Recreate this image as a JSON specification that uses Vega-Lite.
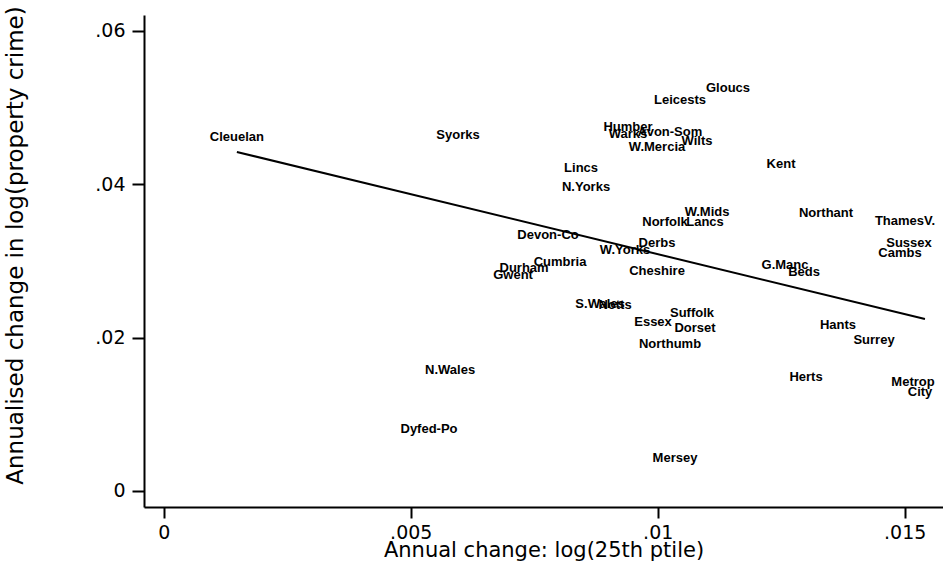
{
  "$schema": "https://vega.github.io/schema/vega-lite/v6.json",
  "width": 799,
  "height": 492,
  "autosize": {"type": "none"},
  "padding": {"left": 144, "top": 15, "right": 0, "bottom": 56},
  "background": "white",
  "config": {
    "view": {"stroke": null},
    "font": "DejaVu Sans",
    "axis": {
      "grid": false,
      "domainColor": "black",
      "tickColor": "black",
      "labelColor": "black",
      "titleColor": "black",
      "titleFontWeight": "normal",
      "labelFont": "DejaVu Sans",
      "titleFont": "DejaVu Sans",
      "domainWidth": 2,
      "tickWidth": 2
    }
  },
  "datasets": {
    "forces": [
      {"force": "Cleuelan", "x": 0.00148, "y": 0.04617},
      {"force": "Syorks", "x": 0.005957, "y": 0.04643},
      {"force": "Gloucs", "x": 0.011423, "y": 0.05256},
      {"force": "Leicests", "x": 0.010451, "y": 0.051},
      {"force": "Humber", "x": 0.009399, "y": 0.04748},
      {"force": "Warks", "x": 0.009399, "y": 0.04656},
      {"force": "Avon-Som", "x": 0.010249, "y": 0.04682},
      {"force": "W.Mercia", "x": 0.009986, "y": 0.04487},
      {"force": "Wilts", "x": 0.010796, "y": 0.04565},
      {"force": "Kent", "x": 0.012496, "y": 0.04265},
      {"force": "Lincs", "x": 0.008448, "y": 0.04213},
      {"force": "N.Yorks", "x": 0.008549, "y": 0.03965},
      {"force": "W.Mids", "x": 0.010998, "y": 0.03639},
      {"force": "Norfolk", "x": 0.010148, "y": 0.03509},
      {"force": "Lancs", "x": 0.010957, "y": 0.03509},
      {"force": "Northant", "x": 0.013407, "y": 0.03626},
      {"force": "ThamesV.", "x": 0.015006, "y": 0.03522},
      {"force": "Devon-Co", "x": 0.007779, "y": 0.03339},
      {"force": "Derbs", "x": 0.009986, "y": 0.03235},
      {"force": "W.Yorks", "x": 0.009338, "y": 0.03143},
      {"force": "Sussex", "x": 0.015087, "y": 0.03235},
      {"force": "Cambs", "x": 0.014905, "y": 0.03104},
      {"force": "Cumbria", "x": 0.008022, "y": 0.02987},
      {"force": "G.Manc", "x": 0.012577, "y": 0.02948},
      {"force": "Durham", "x": 0.007294, "y": 0.02909},
      {"force": "Cheshire", "x": 0.009986, "y": 0.02869},
      {"force": "Beds", "x": 0.012962, "y": 0.02856},
      {"force": "Gwent", "x": 0.007071, "y": 0.02817},
      {"force": "S.Wales", "x": 0.008832, "y": 0.02439},
      {"force": "Notts", "x": 0.009136, "y": 0.02426},
      {"force": "Suffolk", "x": 0.010694, "y": 0.02322},
      {"force": "Essex", "x": 0.009905, "y": 0.02204},
      {"force": "Dorset", "x": 0.010755, "y": 0.02126},
      {"force": "Hants", "x": 0.01365, "y": 0.02165},
      {"force": "Surrey", "x": 0.014379, "y": 0.01969},
      {"force": "Northumb", "x": 0.010249, "y": 0.01917},
      {"force": "N.Wales", "x": 0.005796, "y": 0.01578},
      {"force": "Herts", "x": 0.013002, "y": 0.01487},
      {"force": "Metrop", "x": 0.015168, "y": 0.01422},
      {"force": "City", "x": 0.01531, "y": 0.01291},
      {"force": "Dyfed-Po", "x": 0.00537, "y": 0.00809},
      {"force": "Mersey", "x": 0.01035, "y": 0.0043}
    ],
    "fit": [
      {"x": 0.00148, "y": 0.04422},
      {"x": 0.01541, "y": 0.02243}
    ]
  },
  "layer": [
    {
      "data": {"name": "forces"},
      "mark": {"type": "text", "fontSize": 13, "font": "Liberation Sans", "fontWeight": "bold", "color": "black", "align": "center", "baseline": "middle"},
      "encoding": {
        "x": {
          "field": "x", "type": "quantitative",
          "scale": {"domain": [-0.0004, 0.015775], "nice": false, "zero": false},
          "axis": {
            "values": [0, 0.005, 0.01, 0.015],
            "labelExpr": "datum.value == 0 ? '0' : substring(format(datum.value, '~g'), 1)",
            "title": "Annual change: log(25th ptile)",
            "tickSize": 11,
            "labelFontSize": 19,
            "titleFontSize": 21,
            "labelPadding": 5,
            "titlePadding": -3
          }
        },
        "y": {
          "field": "y", "type": "quantitative",
          "scale": {"domain": [-0.002087, 0.062086], "nice": false, "zero": false},
          "axis": {
            "values": [0, 0.02, 0.04, 0.06],
            "labelExpr": "datum.value == 0 ? '0' : substring(format(datum.value, '~g'), 1)",
            "title": "Annualised change in log(property crime)",
            "tickSize": 12,
            "labelFontSize": 19,
            "titleFontSize": 23,
            "labelPadding": 7,
            "titleX": -129,
            "titleY": 230,
            "titleAlign": "center",
            "titleBaseline": "middle",
            "titleAngle": 270
          }
        },
        "text": {"field": "force", "type": "nominal"}
      }
    },
    {
      "data": {"name": "fit"},
      "mark": {"type": "line", "color": "black", "strokeWidth": 2},
      "encoding": {
        "x": {"field": "x", "type": "quantitative"},
        "y": {"field": "y", "type": "quantitative"}
      }
    }
  ]
}
